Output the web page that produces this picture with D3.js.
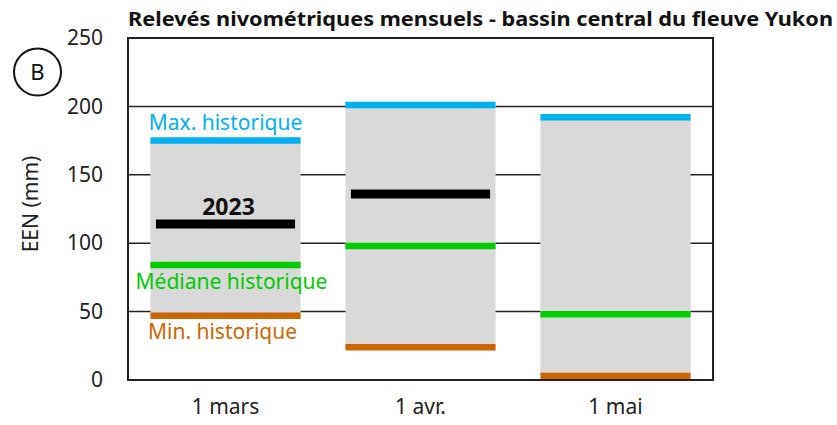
<!DOCTYPE html>
<html>
<head>
<meta charset="utf-8">
<script src="https://cdn.jsdelivr.net/npm/d3@7"></script>
<style>
  body { margin: 0; background: #fff; }
  svg text { font-family: "Noto Sans", sans-serif; }
</style>
</head>
<body>
<div id="chart"></div>
<script>
var months = ["1 mars", "1 avr.", "1 mai"]
var maxHist = [175, 201, 192]
var medianHist = [84, 98, 48]
var minHist = [47, 24, 3]
var val2023 = [114, 136, null]
var yTicks = [0, 50, 100, 150, 200, 250]

var width = 837
var height = 425
var margin = {left: 128, right: 124, top: 38, bottom: 45}

var svg = d3.select("#chart")
  .append("svg")
  .attr("width", width)
  .attr("height", height)

var x = d3.scaleBand()
  .domain(months)
  .range([margin.left, width - margin.right])
  .paddingInner(0.23)
  .paddingOuter(0.115)

var y = d3.scaleLinear()
  .domain([0, 250])
  .range([height - margin.bottom, margin.top])

// gridlines
svg.append("g")
  .selectAll("line")
  .data(yTicks.slice(1, -1))
  .join("line")
  .attr("x1", margin.left)
  .attr("x2", width - margin.right)
  .attr("y1", d => y(d))
  .attr("y2", d => y(d))
  .attr("stroke", "#222")
  .attr("stroke-width", 1.5)

// grey range boxes
svg.append("g")
  .selectAll("rect")
  .data(months)
  .join("rect")
  .attr("x", d => x(d))
  .attr("width", x.bandwidth())
  .attr("y", (d, i) => y(maxHist[i]))
  .attr("height", (d, i) => y(minHist[i]) - y(maxHist[i]))
  .attr("fill", "#d9d9d9")

function hLines(vals, color, thick, inset) {
  svg.append("g")
    .selectAll("line")
    .data(months.filter((d, i) => vals[i] != null))
    .join("line")
    .attr("x1", d => x(d) + inset)
    .attr("x2", d => x(d) + x.bandwidth() - inset)
    .attr("y1", d => y(vals[months.indexOf(d)]))
    .attr("y2", d => y(vals[months.indexOf(d)]))
    .attr("stroke", color)
    .attr("stroke-width", thick)
}

hLines(maxHist, "#00b0f0", 6.5, 0)
hLines(medianHist, "#00cc00", 6.5, 0)
hLines(minHist, "#cc6600", 6.5, 0)
hLines(val2023, "#000", 9, 5.5)

// frame
svg.append("rect")
  .attr("x", margin.left)
  .attr("y", margin.top)
  .attr("width", width - margin.left - margin.right)
  .attr("height", height - margin.top - margin.bottom)
  .attr("fill", "none")
  .attr("stroke", "#222")
  .attr("stroke-width", 2)

// y axis
var yAxis = d3.axisLeft(y).tickValues(yTicks).tickSize(0).tickPadding(25)
var gy = svg.append("g")
  .attr("transform", "translate(" + margin.left + ",0)")
  .call(yAxis)
gy.select(".domain").remove()
gy.selectAll("text")
  .attr("font-size", 21)
  .attr("fill", "#222")
  .style("font-family", "'Noto Sans', sans-serif")

// x axis
var xAxis = d3.axisBottom(x).tickSize(0).tickPadding(19)
var gx = svg.append("g")
  .attr("transform", "translate(0," + (height - margin.bottom) + ")")
  .call(xAxis)
gx.select(".domain").remove()
gx.selectAll("text")
  .attr("font-size", 21)
  .attr("fill", "#222")
  .style("font-family", "'Noto Sans', sans-serif")

// y label
svg.append("text")
  .attr("transform", "translate(38,204) rotate(-90)")
  .attr("text-anchor", "middle")
  .attr("font-size", 21)
  .attr("fill", "#222")
  .text("EEN (mm)")

// title
var title = svg.append("text")
  .attr("x", 128)
  .attr("y", 26)
  .attr("font-size", 20)
  .attr("font-weight", "bold")
  .attr("fill", "#111")
  .text("Relevés nivométriques mensuels - bassin central du fleuve Yukon")
title.attr("textLength", 705).attr("lengthAdjust", "spacingAndGlyphs")

// panel letter
svg.append("circle")
  .attr("cx", 37.5)
  .attr("cy", 72)
  .attr("r", 23.5)
  .attr("fill", "none")
  .attr("stroke", "#111")
  .attr("stroke-width", 2)
svg.append("text")
  .attr("x", 37.5)
  .attr("y", 80)
  .attr("text-anchor", "middle")
  .attr("font-size", 22)
  .attr("fill", "#111")
  .text("B")

// annotations on first box
var m0 = months[0]
var cx0 = x(m0) + x.bandwidth() / 2
svg.append("text")
  .attr("x", cx0)
  .attr("y", y(maxHist[0]) - 11)
  .attr("text-anchor", "middle")
  .attr("font-size", 21)
  .attr("fill", "#00b0f0")
  .text("Max. historique")
svg.append("text")
  .attr("x", cx0 + 6)
  .attr("y", y(medianHist[0]) + 24)
  .attr("text-anchor", "middle")
  .attr("font-size", 21)
  .attr("fill", "#00cc00")
  .text("Médiane historique")
svg.append("text")
  .attr("x", cx0 - 3)
  .attr("y", y(minHist[0]) + 23)
  .attr("text-anchor", "middle")
  .attr("font-size", 21)
  .attr("fill", "#cc6600")
  .text("Min. historique")
svg.append("text")
  .attr("x", cx0 + 3)
  .attr("y", y(val2023[0]) - 9)
  .attr("text-anchor", "middle")
  .attr("font-size", 23)
  .attr("font-weight", "bold")
  .attr("fill", "#111")
  .text("2023")
</script>
</body>
</html>
